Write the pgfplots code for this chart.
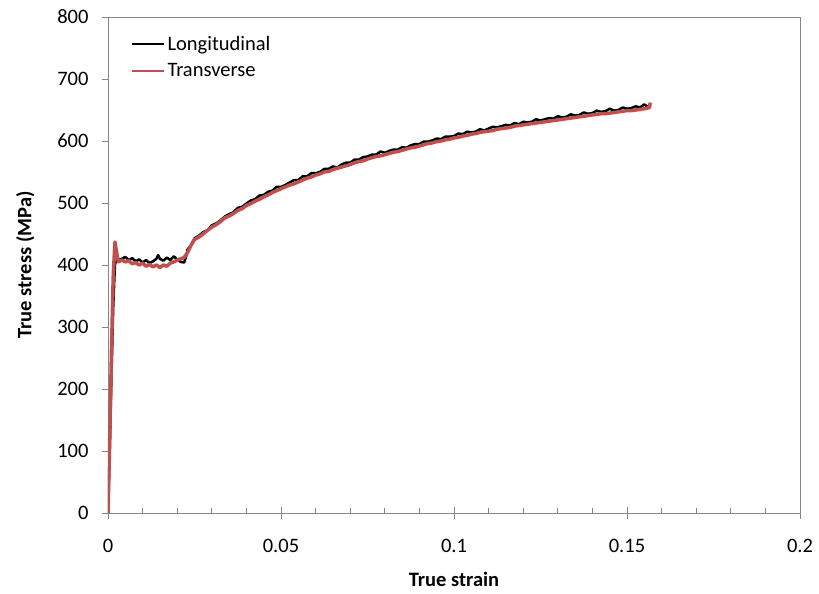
\documentclass[border=0pt]{standalone}
\usepackage{pgfplots}
\pgfplotsset{compat=1.18}
\usepackage{fontspec}
\setmainfont{Carlito}
\definecolor{tred}{HTML}{C0504D}
\definecolor{axgray}{HTML}{868686}
\begin{document}
\begin{tikzpicture}
\useasboundingbox (-108pt,-81pt) rectangle (711pt,513pt);
\begin{axis}[
  scale only axis,
  width=692pt, height=496pt,
  xmin=0, xmax=0.2, ymin=0, ymax=800,
  xtick={0,0.05,0.1,0.15,0.2},
  xticklabels={0,0.05,0.1,0.15,0.2},
  minor x tick num=4,
  ytick={0,100,...,800},
  axis line style={axgray, line width=0.9pt},
  every tick/.style={axgray, line width=0.9pt},
  tick align=outside,
  xtick pos=bottom, ytick pos=left,
  major x tick style={/pgfplots/major tick length=12pt, yshift=6pt},
  minor x tick style={/pgfplots/minor tick length=5pt, yshift=5pt},
  major tick length=6pt,
  /pgf/number format/assume math mode=true,
  ticklabel style={font=\fontsize{20.5}{24}\selectfont, text=black},
  xticklabel style={yshift=-17pt},
  yticklabel style={xshift=-10pt},
  xlabel={\textbf{True strain}},
  ylabel={\textbf{True stress (MPa)}},
  label style={font=\fontsize{20.5}{24}\selectfont},
  xlabel style={yshift=-12pt},
  ylabel style={yshift=16pt},
  legend style={draw=none, fill=none, at={(rel axis cs:0.033,0.966)}, anchor=north west,
    font=\fontsize{20.5}{24}\selectfont, row sep=8pt, inner sep=0pt},
  legend cell align=left,
  legend image code/.code={\draw[#1, line width=2.5pt] (0pt,0pt) -- (32pt,0pt);},
]
\addplot[black, line width=2.5pt, line join=round] coordinates {
(0,0) (0.0005,100) (0.001,220) (0.0015,330) (0.002,400) (0.0025,412) (0.003,408)
(0.004,410) (0.005,413) (0.006,408) (0.007,411) (0.008,406) (0.009,409) (0.010,404)
(0.011,408) (0.012,403) (0.013,406) (0.014,410) (0.0145,416) (0.015,410) (0.016,407)
(0.017,412) (0.018,408) (0.019,414) (0.020,409) (0.021,405) (0.022,404) (0.0225,412)
(0.023,425) (0.024,432)
(0.0250,443) (0.02625,447) (0.0275,453) (0.02875,456) (0.0300,464) (0.03125,467)
(0.0325,472) (0.03375,478) (0.0350,482) (0.03625,485) (0.0375,492) (0.03875,494)
(0.0400,499) (0.04125,504) (0.0425,506) (0.04375,512) (0.0450,513) (0.04625,518)
(0.0475,520) (0.04875,526) (0.0500,526) (0.05125,529) (0.0525,533) (0.05375,537)
(0.0550,537) (0.05625,543) (0.0575,543) (0.05875,548) (0.0600,548) (0.06125,550)
(0.0625,555) (0.06375,555) (0.0650,559) (0.06625,557) (0.0675,562) (0.06875,565)
(0.0700,565) (0.07125,570) (0.0725,570) (0.07375,574) (0.0750,575) (0.07625,578)
(0.0775,578) (0.07875,583) (0.0800,581) (0.08125,584) (0.0825,586) (0.08375,586)
(0.0850,590) (0.08625,589) (0.0875,593) (0.08875,595) (0.0900,595) (0.09125,599)
(0.0925,599) (0.09375,601) (0.0950,604) (0.09625,603) (0.0975,607) (0.09875,607)
(0.1000,608) (0.10125,612) (0.1025,611) (0.10375,615) (0.1050,614) (0.10625,615)
(0.1075,619) (0.10875,617) (0.1100,620) (0.11125,623) (0.1125,622) (0.11375,624)
(0.1150,626) (0.11625,625) (0.1175,629) (0.11875,627) (0.1200,631) (0.12125,630)
(0.1225,631) (0.12375,635) (0.1250,633) (0.12625,635) (0.1275,637) (0.12875,636)
(0.1300,640) (0.13125,638) (0.1325,639) (0.13375,643) (0.1350,641) (0.13625,642)
(0.1375,646) (0.13875,644) (0.1400,645) (0.14125,649) (0.1425,647) (0.14375,648)
(0.1450,652) (0.14625,649) (0.1475,650) (0.14875,654) (0.1500,652) (0.15125,653)
(0.1525,656) (0.15375,654) (0.1550,659) (0.1560,655)
};
\addlegendentry{Longitudinal}
\addplot[tred, line width=3.5pt, line join=round] coordinates {
(0,0) (0.0005,120) (0.001,260) (0.0015,380) (0.002,437) (0.0025,420) (0.003,405)
(0.004,408) (0.005,405) (0.006,407) (0.007,402) (0.008,404) (0.009,400) (0.010,403)
(0.011,398) (0.012,401) (0.013,397) (0.014,400) (0.015,396) (0.016,400) (0.017,398)
(0.018,403) (0.019,405) (0.020,408) (0.021,410) (0.022,412) (0.023,420) (0.024,432)
(0.0250,441) (0.02625,445) (0.0275,450) (0.02875,456) (0.0300,461) (0.03125,465)
(0.0325,470) (0.03375,476) (0.0350,479) (0.03625,483) (0.0375,488) (0.03875,491)
(0.0400,496) (0.04125,499) (0.0425,503) (0.04375,506) (0.0450,510) (0.04625,513)
(0.0475,517) (0.04875,520) (0.0500,523) (0.05125,526) (0.0525,529) (0.05375,531)
(0.0550,534) (0.05625,537) (0.0575,540) (0.05875,542) (0.0600,545) (0.06125,547)
(0.0625,550) (0.06375,551) (0.0650,554) (0.06625,556) (0.0675,558) (0.06875,560)
(0.0700,562) (0.07125,565) (0.0725,567) (0.07375,568) (0.0750,571) (0.07625,573)
(0.0775,575) (0.07875,576) (0.0800,578) (0.08125,580) (0.0825,582) (0.08375,583)
(0.0850,585) (0.08625,587) (0.0875,589) (0.08875,590) (0.0900,592) (0.09125,594)
(0.0925,596) (0.09375,597) (0.0950,599) (0.09625,600) (0.0975,602) (0.09875,603)
(0.1000,605) (0.10125,606) (0.1025,608) (0.10375,609) (0.1050,611) (0.10625,612)
(0.1075,614) (0.10875,615) (0.1100,616) (0.11125,617) (0.1125,619) (0.11375,620)
(0.1150,621) (0.11625,622) (0.1175,624) (0.11875,625) (0.1200,626) (0.12125,627)
(0.1225,628) (0.12375,629) (0.1250,630) (0.12625,631) (0.1275,632) (0.12875,633)
(0.1300,634) (0.13125,635) (0.1325,636) (0.13375,637) (0.1350,638) (0.13625,639)
(0.1375,640) (0.13875,641) (0.1400,642) (0.14125,643) (0.1425,644) (0.14375,644)
(0.1450,645) (0.14625,646) (0.1475,647) (0.14875,648) (0.1500,649) (0.15125,649)
(0.1525,650) (0.15375,651) (0.1550,652) (0.1565,654) (0.1567,662)
};
\addlegendentry{Transverse}
\end{axis}
\end{tikzpicture}
\end{document}
